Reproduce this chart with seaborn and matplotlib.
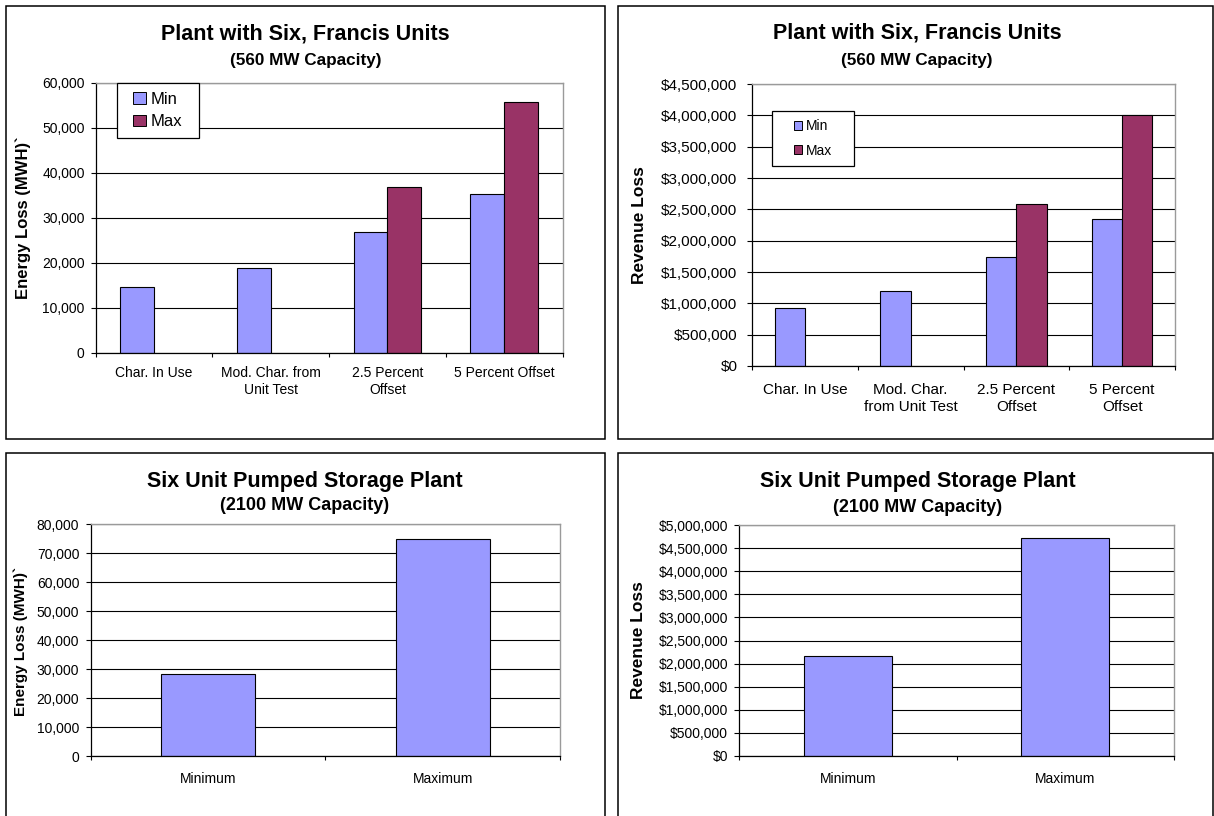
import numpy as np
import pandas as pd
import matplotlib
matplotlib.use("Agg")
import matplotlib.pyplot as plt
import seaborn as sns
from matplotlib.patches import Rectangle, Patch
from matplotlib.ticker import FuncFormatter

sns.set_style("white")
plt.rcParams["font.family"] = ["Liberation Sans", "DejaVu Sans"]
plt.rcParams["text.color"] = "black"
plt.rcParams["axes.labelcolor"] = "black"
plt.rcParams["xtick.color"] = "black"
plt.rcParams["ytick.color"] = "black"

# ---- data -------------------------------------------------------------
series_levels = ["Min", "Max"]

francis_cases_energy = ["Char. In Use", "Mod. Char. from\nUnit Test",
                        "2.5 Percent\nOffset", "5 Percent Offset"]
francis_cases_revenue = ["Char. In Use", "Mod. Char.\nfrom Unit Test",
                         "2.5 Percent\nOffset", "5 Percent\nOffset"]
francis_energy_min = [14600, 18900, 26800, 35200]
francis_energy_max = [np.nan, np.nan, 36900, 55800]
francis_revenue_min = [920000, 1200000, 1745000, 2350000]
francis_revenue_max = [np.nan, np.nan, 2580000, 4010000]

pumped_cases = ["Minimum", "Maximum"]
pumped_energy = [28400, 75000]
pumped_revenue = [2160000, 4720000]

MIN_COLOR = "#9999FF"
MAX_COLOR = "#993366"

W, H = 1214, 816
fig = plt.figure(figsize=(W / 100, H / 100), dpi=100)
fig.patch.set_facecolor("white")


def fx(px):
    return px / W


def fy(py):
    return 1 - py / H


def add_panel_box(x0, y0, x1, y1):
    fig.add_artist(Rectangle((fx(x0), fy(y1)), fx(x1) - fx(x0), fy(y0) - fy(y1),
                             transform=fig.transFigure, fill=False,
                             edgecolor="black", linewidth=1.1))


def add_axes_px(x0, y0, x1, y1):
    return fig.add_axes([fx(x0), fy(y1), fx(x1) - fx(x0), fy(y0) - fy(y1)])


def long_frame(cases, mins, maxs):
    rows = []
    for c, a, b in zip(cases, mins, maxs):
        rows.append((c, "Min", a))
        rows.append((c, "Max", b))
    df = pd.DataFrame(rows, columns=["case", "series", "value"])
    return df.dropna()


def style_axes(ax, cases, ymax, ystep, fmt, tick_size, xpad, ypad):
    n = len(cases)
    ax.set_xlim(-0.5, n - 0.5)
    ax.set_ylim(0, ymax)
    ax.set_yticks(np.arange(0, ymax + ystep / 2, ystep))
    ax.yaxis.set_major_formatter(FuncFormatter(fmt))
    ax.set_xticks(np.arange(-0.5, n, 1.0), labels=[""] * (n + 1))
    ax.set_xticks(np.arange(n), labels=cases, minor=True)
    ax.tick_params(axis="x", which="major", length=3.2, width=0.8,
                   direction="out", bottom=True)
    ax.tick_params(axis="x", which="minor", length=0, pad=xpad,
                   labelsize=tick_size, bottom=True)
    ax.tick_params(axis="y", length=3.6, width=0.8, direction="out",
                   pad=ypad, labelsize=tick_size, left=True)
    for lab in ax.get_xticklabels(minor=True):
        lab.set_linespacing(1.3)
    ax.set_xlabel("")
    ax.yaxis.grid(True, color="black", linewidth=0.8)
    ax.xaxis.grid(False)
    ax.set_axisbelow(True)
    for side in ("left", "bottom"):
        ax.spines[side].set_color("black")
        ax.spines[side].set_linewidth(0.9)
    for side in ("top", "right"):
        ax.spines[side].set_color("#9a9a9a")
        ax.spines[side].set_linewidth(1.0)
        ax.spines[side].set_visible(True)


def titles(cx, ty, sy, title, subtitle, tsize, ssize):
    fig.text(fx(cx), fy(ty), title, ha="center", va="center",
             fontsize=tsize, fontweight="bold")
    fig.text(fx(cx), fy(sy), subtitle, ha="center", va="center",
             fontsize=ssize, fontweight="bold")


def ylabel(ax, text, cx, cy, size):
    ax.set_ylabel(text, fontsize=size, fontweight="bold")
    ax.yaxis.label.set_va("center")
    ax.yaxis.set_label_coords(fx(cx), fy(cy), transform=fig.transFigure)


def legend_box(ax, box, fontsize, hl, hh, spacing, tpad):
    x0, y0, x1, y1 = box
    ax.add_patch(Rectangle((x0, y0), x1 - x0, y1 - y0, transform=ax.transAxes,
                           facecolor="white", edgecolor="black",
                           linewidth=0.9, zorder=4, clip_on=False))
    handles = [Patch(facecolor=MIN_COLOR, edgecolor="black", linewidth=0.7),
               Patch(facecolor=MAX_COLOR, edgecolor="black", linewidth=0.7)]
    leg = ax.legend(handles, series_levels, loc="center",
                    bbox_to_anchor=((x0 + x1) / 2, (y0 + y1) / 2),
                    frameon=False, fontsize=fontsize, handlelength=hl,
                    handleheight=hh, labelspacing=spacing,
                    handletextpad=tpad, borderpad=0, borderaxespad=0)
    leg.set_zorder(5)


thousands = lambda v, p: f"{v:,.0f}"
dollars = lambda v, p: f"${v:,.0f}"
bar_kw = dict(edgecolor="black", linewidth=0.8, errorbar=None, saturation=1)

# ---- panel 1: Francis plant energy loss -------------------------------
add_panel_box(6, 5.5, 605, 439)
ax1 = add_axes_px(95.5, 83, 562.5, 352.5)
df1 = long_frame(francis_cases_energy, francis_energy_min, francis_energy_max)
sns.barplot(data=df1, x="case", y="value", hue="series",
            order=francis_cases_energy, hue_order=series_levels,
            palette=[MIN_COLOR, MAX_COLOR], width=0.58, ax=ax1, **bar_kw)
style_axes(ax1, francis_cases_energy, 60000, 10000, thousands, 10, 9.5, 4.2)
legend_box(ax1, (0.046, 0.796, 0.2216, 1.0), 12, 0.76, 0.65, 0.44, 0.3)
titles(305.5, 34, 61, "Plant with Six, Francis Units", "(560 MW Capacity)", 15.5, 12.3)
ylabel(ax1, "Energy Loss (MWH)`", 23, 218, 12)

# ---- panel 2: Francis plant revenue loss ------------------------------
add_panel_box(618, 5.5, 1213, 438.5)
ax2 = add_axes_px(752, 84, 1175, 366)
df2 = long_frame(francis_cases_revenue, francis_revenue_min, francis_revenue_max)
sns.barplot(data=df2, x="case", y="value", hue="series",
            order=francis_cases_revenue, hue_order=series_levels,
            palette=[MIN_COLOR, MAX_COLOR], width=0.57, ax=ax2, **bar_kw)
style_axes(ax2, francis_cases_revenue, 4500000, 500000, dollars, 11, 12, 6.8)
legend_box(ax2, (0.0473, 0.709, 0.241, 0.905), 10, 0.6, 0.6, 0.75, 0.3)
titles(917, 33, 61, "Plant with Six, Francis Units", "(560 MW Capacity)", 15.5, 12.3)
ylabel(ax2, "Revenue Loss", 640, 225, 12.5)

# ---- panel 3: pumped storage energy loss ------------------------------
add_panel_box(6, 453, 605, 830)
ax3 = add_axes_px(90.7, 524.3, 560, 756)
df3 = pd.DataFrame({"case": pumped_cases, "value": pumped_energy})
sns.barplot(data=df3, x="case", y="value", order=pumped_cases,
            color=MIN_COLOR, width=0.40, ax=ax3, **bar_kw)
style_axes(ax3, pumped_cases, 80000, 10000, thousands, 10, 11.5, 4.6)
titles(304.6, 481, 506, "Six Unit Pumped Storage Plant", "(2100 MW Capacity)", 15.5, 13)
ylabel(ax3, "Energy Loss (MWH)`", 21, 641, 11)

# ---- panel 4: pumped storage revenue loss -----------------------------
add_panel_box(618, 453, 1213, 830)
ax4 = add_axes_px(739, 525, 1174, 756)
df4 = pd.DataFrame({"case": pumped_cases, "value": pumped_revenue})
sns.barplot(data=df4, x="case", y="value", order=pumped_cases,
            color=MIN_COLOR, width=0.405, ax=ax4, **bar_kw)
style_axes(ax4, pumped_cases, 5000000, 500000, dollars, 10, 11.5, 4.3)
titles(917.5, 481, 507, "Six Unit Pumped Storage Plant", "(2100 MW Capacity)", 15.5, 13)
ylabel(ax4, "Revenue Loss", 638.5, 640, 12.5)

fig.savefig("out.png", dpi=100, facecolor="white")
